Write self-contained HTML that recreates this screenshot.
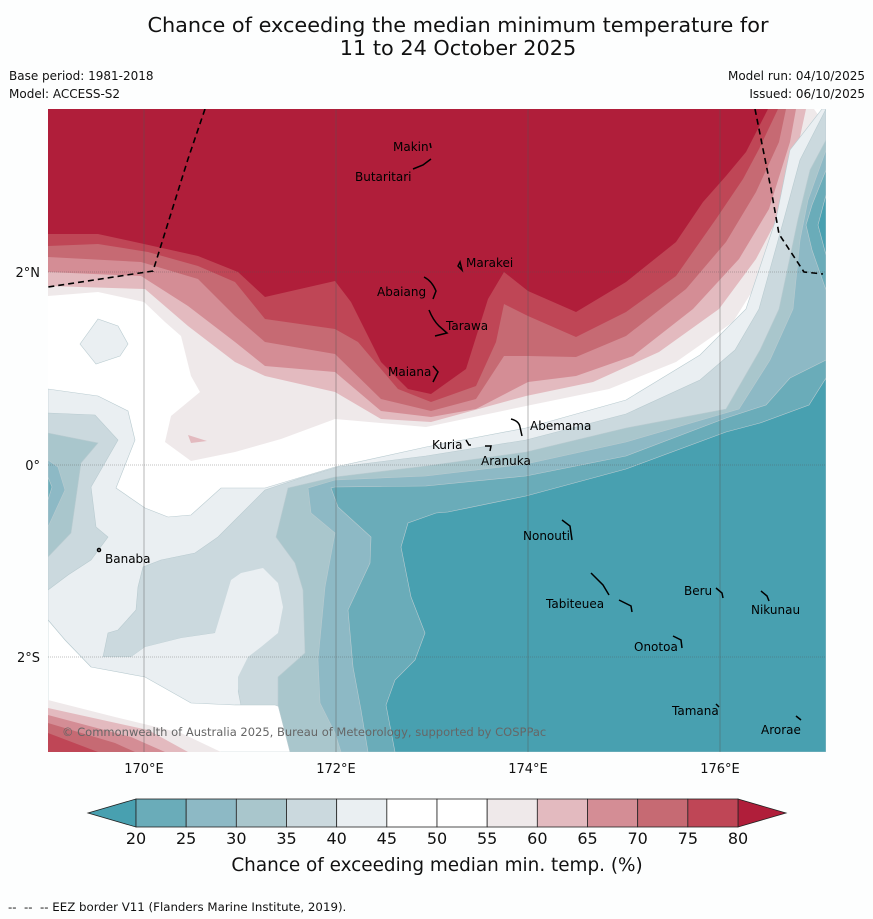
<!DOCTYPE html>
<html><head><meta charset="utf-8"><style>
html,body{margin:0;padding:0;background:#fdfefe;}
svg{display:block;font-family:"DejaVu Sans","Liberation Sans",sans-serif;}
</style></head><body>
<svg id="page" width="873" height="919" viewBox="0 0 873 919">
<rect x="0" y="0" width="873" height="919" fill="#fdfefe"/>
<text x="458" y="32" font-size="20.8" text-anchor="middle" fill="#111">Chance of exceeding the median minimum temperature for</text>
<text x="458" y="55" font-size="20.8" text-anchor="middle" fill="#111">11 to 24 October 2025</text>
<text x="9" y="80" font-size="12" fill="#111">Base period: 1981-2018</text>
<text x="9" y="98" font-size="12" fill="#111">Model: ACCESS-S2</text>
<text x="865" y="80" font-size="12" text-anchor="end" fill="#111">Model run: 04/10/2025</text>
<text x="865" y="98" font-size="12" text-anchor="end" fill="#111">Issued: 06/10/2025</text>
<defs><clipPath id="mapclip"><rect x="48" y="109" width="778" height="643"/></clipPath></defs>
<g clip-path="url(#mapclip)">
<rect x="48" y="109" width="778" height="643" fill="#ffffff"/>
<g stroke="none">
<polygon fill="#efe9ea" points="48,109 814,109 826,126 793,209 766,269 733,322 676,362 609,389 526,406 426,427 335,419 281,439 235,452 191,461 165,442 171,416 200,392 191,376 181,336 165,322 144,302 98,292 48,296"/>
<polygon fill="#e3babf" points="48,109 806,109 786,202 756,259 719,309 659,352 593,382 526,396 431,422 381,419 335,392 265,376 235,362 188,326 145,289 48,286"/>
<polygon fill="#d48d95" points="48,109 796,109 790,142 769,209 739,259 693,309 633,356 576,376 528,382 476,409 431,417 381,411 335,372 265,366 235,342 188,306 141,276 48,272"/>
<polygon fill="#c66a73" points="48,109 786,109 779,142 756,192 726,242 686,289 626,336 576,357 528,356 504,356 476,399 431,411 381,399 335,354 265,342 235,316 198,279 141,262 48,257"/>
<polygon fill="#bf4656" points="48,109 778,109 759,149 743,179 716,219 676,276 626,312 576,337 528,316 504,304 496,342 476,386 431,402 398,389 358,342 335,329 265,319 235,282 198,266 148,252 98,244 48,246"/>
<polygon fill="#b01e3a" points="48,109 768,109 746,152 726,176 703,202 676,242 626,282 576,312 528,291 504,272 488,299 466,369 431,394 408,389 381,362 351,302 335,281 265,297 238,272 198,256 144,244 98,234 48,234"/>
<polygon fill="#e3babf" points="188,435 207,441 191,443"/>
</g>
<g stroke="#b9cbd0" stroke-width="0.6">
<polygon fill="#eaeff2" points="80,344 98,319 118,326 128,344 120,356 96,364"/>
<polygon fill="#eaeff2" points="822,109 826,109 826,752 348,752 335,733 315,720 275,705 235,705 191,703 145,677 91,667 65,640 48,620 48,389 98,396 128,411 135,440 116,488 145,508 168,517 191,515 221,488 265,488 335,467 426,447 526,428 626,400 700,355 746,309 776,219 790,150"/>
<polygon fill="#cbd9de" points="826,109 800,160 784,219 759,309 735,350 700,380 626,414 526,440 426,456 338,467 301,478 265,490 235,520 218,537 195,553 161,560 143,567 138,587 136,610 118,630 108,633 103,657 131,657 145,647 181,638 215,633 238,690 250,752 826,752"/>
<polygon fill="#cbd9de" points="48,413 95,415 118,440 91,487 96,527 108,537 91,560 68,575 48,590"/>
<polygon fill="#eaeff2" stroke="none" points="103,657 131,657 145,647 181,638 215,633 225,600 231,580 241,573 263,568 278,583 283,607 278,633 261,647 248,657 238,677 238,690 235,705 191,703 145,677 91,667"/>
<polygon fill="#ffffff" points="48,620 65,640 91,667 145,677 191,703 235,705 275,705 315,720 335,733 348,752 48,752"/>
<polygon fill="#a9c6cc" points="48,433 98,443 81,463 71,533 48,557"/>
<polygon fill="#8db9c5" points="48,460 58,467 65,490 48,527"/>
<polygon fill="#6aacb9" points="48,477 52,487 48,500"/>
<polygon fill="#a9c6cc" points="826,140 810,170 798,219 779,309 760,350 726,409 626,428 526,452 426,466 335,477 288,488 276,537 295,563 303,590 305,653 278,677 278,705 290,752 826,752"/>
<polygon fill="#8db9c5" points="826,150 808,200 800,240 793,309 770,360 739,409 626,442 526,464 426,476 335,480 308,488 311,513 335,533 325,587 318,660 320,703 335,733 341,752 826,752"/>
<polygon fill="#6aacb9" points="826,360 790,378 766,405 726,418 626,456 526,476 426,486 335,487 331,488 338,507 371,537 370,563 348,610 353,667 361,710 368,752 826,752"/>
<polygon fill="#6aacb9" points="826,170 812,205 806,225 812,250 826,290"/>
<polygon fill="#48a0b0" points="826,378 809,405 760,423 726,432 626,469 526,496 448,512 436,513 408,523 401,547 411,597 425,633 415,660 395,680 386,705 395,752 826,752"/>
<polygon fill="#48a0b0" points="826,195 818,225 826,255"/>
</g>
<g>
<polygon fill="#efe9ea" points="48,700 115,717 181,733 221,752 48,752"/>
<polygon fill="#e3babf" points="48,708 148,730 188,752 48,752"/>
<polygon fill="#d48d95" points="48,715 131,737 165,752 48,752"/>
<polygon fill="#c66a73" points="48,723 115,743 135,752 48,752"/>
<polygon fill="#bf4656" points="48,733 98,752 48,752"/>
</g>
<g stroke="#555" stroke-width="0.6" opacity="0.7">
<line x1="144" y1="109" x2="144" y2="752"/>
<line x1="336" y1="109" x2="336" y2="752"/>
<line x1="528" y1="109" x2="528" y2="752"/>
<line x1="720" y1="109" x2="720" y2="752"/>
<line x1="48" y1="272" x2="826" y2="272" stroke-dasharray="1,1"/>
<line x1="48" y1="465" x2="826" y2="465" stroke-dasharray="1,1"/>
<line x1="48" y1="657" x2="826" y2="657" stroke-dasharray="1,1"/>
</g>
<g fill="none" stroke="#000" stroke-width="1.6" stroke-dasharray="6,4">
<polyline points="205,109 188,159 153,271 48,287"/>
<polyline points="755,109 771,189 779,234 804,272 823,274"/>
</g>
<g fill="none" stroke="#000" stroke-width="1.5">
<path d="M430,143 l1,5"/>
<path d="M431,159 l-8,6 l-10,4"/>
<path d="M458,266 l2,-4 l2,8 z"/>
<path d="M424,277 q8,4 12,14 l-3,8"/>
<path d="M429,310 q4,10 10,16 l8,7 l-12,3"/>
<path d="M433,366 l5,6 l-5,10"/>
<path d="M511,419 q8,2 9,8 l2,9"/>
<path d="M466,440 l3,5 l2,0"/>
<path d="M485,446 l6,0 l-1,5"/>
<path d="M562,520 l8,6 l2,14"/>
<circle cx="99" cy="550" r="1.5"/>
<path d="M591,573 l12,12 l6,10 M619,600 l12,6 l1,6"/>
<path d="M716,588 l6,5 l1,5"/>
<path d="M761,591 l6,5 l2,5"/>
<path d="M673,636 l8,4 l1,8"/>
<path d="M716,704 l3,3"/>
<path d="M796,716 l5,4"/>
</g>
<g font-size="12" fill="#000">
<text x="393" y="151">Makin</text>
<text x="355" y="181">Butaritari</text>
<text x="466" y="267">Marakei</text>
<text x="377" y="296">Abaiang</text>
<text x="446" y="330">Tarawa</text>
<text x="388" y="376">Maiana</text>
<text x="530" y="430">Abemama</text>
<text x="432" y="449">Kuria</text>
<text x="481" y="465">Aranuka</text>
<text x="523" y="540">Nonouti</text>
<text x="105" y="563">Banaba</text>
<text x="546" y="608">Tabiteuea</text>
<text x="684" y="595">Beru</text>
<text x="751" y="614">Nikunau</text>
<text x="634" y="651">Onotoa</text>
<text x="672" y="715">Tamana</text>
<text x="761" y="734">Arorae</text>
</g>
<text x="62" y="736" font-size="11.5" fill="#666">© Commonwealth of Australia 2025, Bureau of Meteorology, supported by COSPPac</text>
</g>
<g font-size="13" fill="#111">
<text x="40" y="277" text-anchor="end">2°N</text>
<text x="40" y="470" text-anchor="end">0°</text>
<text x="40" y="662" text-anchor="end">2°S</text>
<text x="144" y="773" text-anchor="middle">170°E</text>
<text x="336" y="773" text-anchor="middle">172°E</text>
<text x="528" y="773" text-anchor="middle">174°E</text>
<text x="720" y="773" text-anchor="middle">176°E</text>
</g>
<g id="colorbar"></g>
<text x="437" y="871" font-size="18.4" text-anchor="middle" fill="#111">Chance of exceeding median min. temp. (%)</text>
<text x="8" y="911" font-size="11.8" fill="#111" xml:space="preserve">--  --  -- EEZ border V11 (Flanders Marine Institute, 2019).</text>
</svg>
<script>
const levels = [20,25,30,35,40,45,50,55,60,65,70,75,80];
const bandColors = ["#6aacb9","#8db9c5","#a9c6cc","#cbd9de","#eaeff2","#ffffff","#ffffff","#efe9ea","#e3babf","#d48d95","#c66a73","#bf4656"];
const underColor = "#48a0b0";
const overColor = "#b01e3a";
const NS = "http://www.w3.org/2000/svg";
const cb = document.getElementById("colorbar");
const x0 = 136, x1 = 738, yTop = 799, yBot = 827;
function xScale(v){ return x0 + (v - levels[0]) / (levels[levels.length-1] - levels[0]) * (x1 - x0); }
function mk(tag, attrs){ const e = document.createElementNS(NS, tag); for (const k in attrs) e.setAttribute(k, attrs[k]); return e; }
const under = mk("polygon", {points: `${xScale(levels[0])},${yTop} 88,813 ${xScale(levels[0])},${yBot}`, fill: underColor, stroke: "#222", "stroke-width": 0.8});


cb.appendChild(under);
const over = mk("polygon", {points: `${xScale(levels[levels.length-1])},${yTop} 786,813 ${xScale(levels[levels.length-1])},${yBot}`, fill: overColor, stroke: "#222", "stroke-width": 0.8});


cb.appendChild(over);
for (let i = 0; i < bandColors.length; i++) {
  const xa = xScale(levels[i]), xb = xScale(levels[i+1]);
  const r = mk("rect", {x: xa, y: yTop, width: xb - xa, height: yBot - yTop, fill: bandColors[i], stroke: "#222", "stroke-width": 0.8});
  
  
  cb.appendChild(r);
}
for (let i = 0; i < levels.length; i++) {
  const t = mk("text", {x: xScale(levels[i]), y: 844, "font-size": 16, "text-anchor": "middle", fill: "#111"});
  t.textContent = levels[i];
  
  
  cb.appendChild(t);
}
</script>
</body></html>
